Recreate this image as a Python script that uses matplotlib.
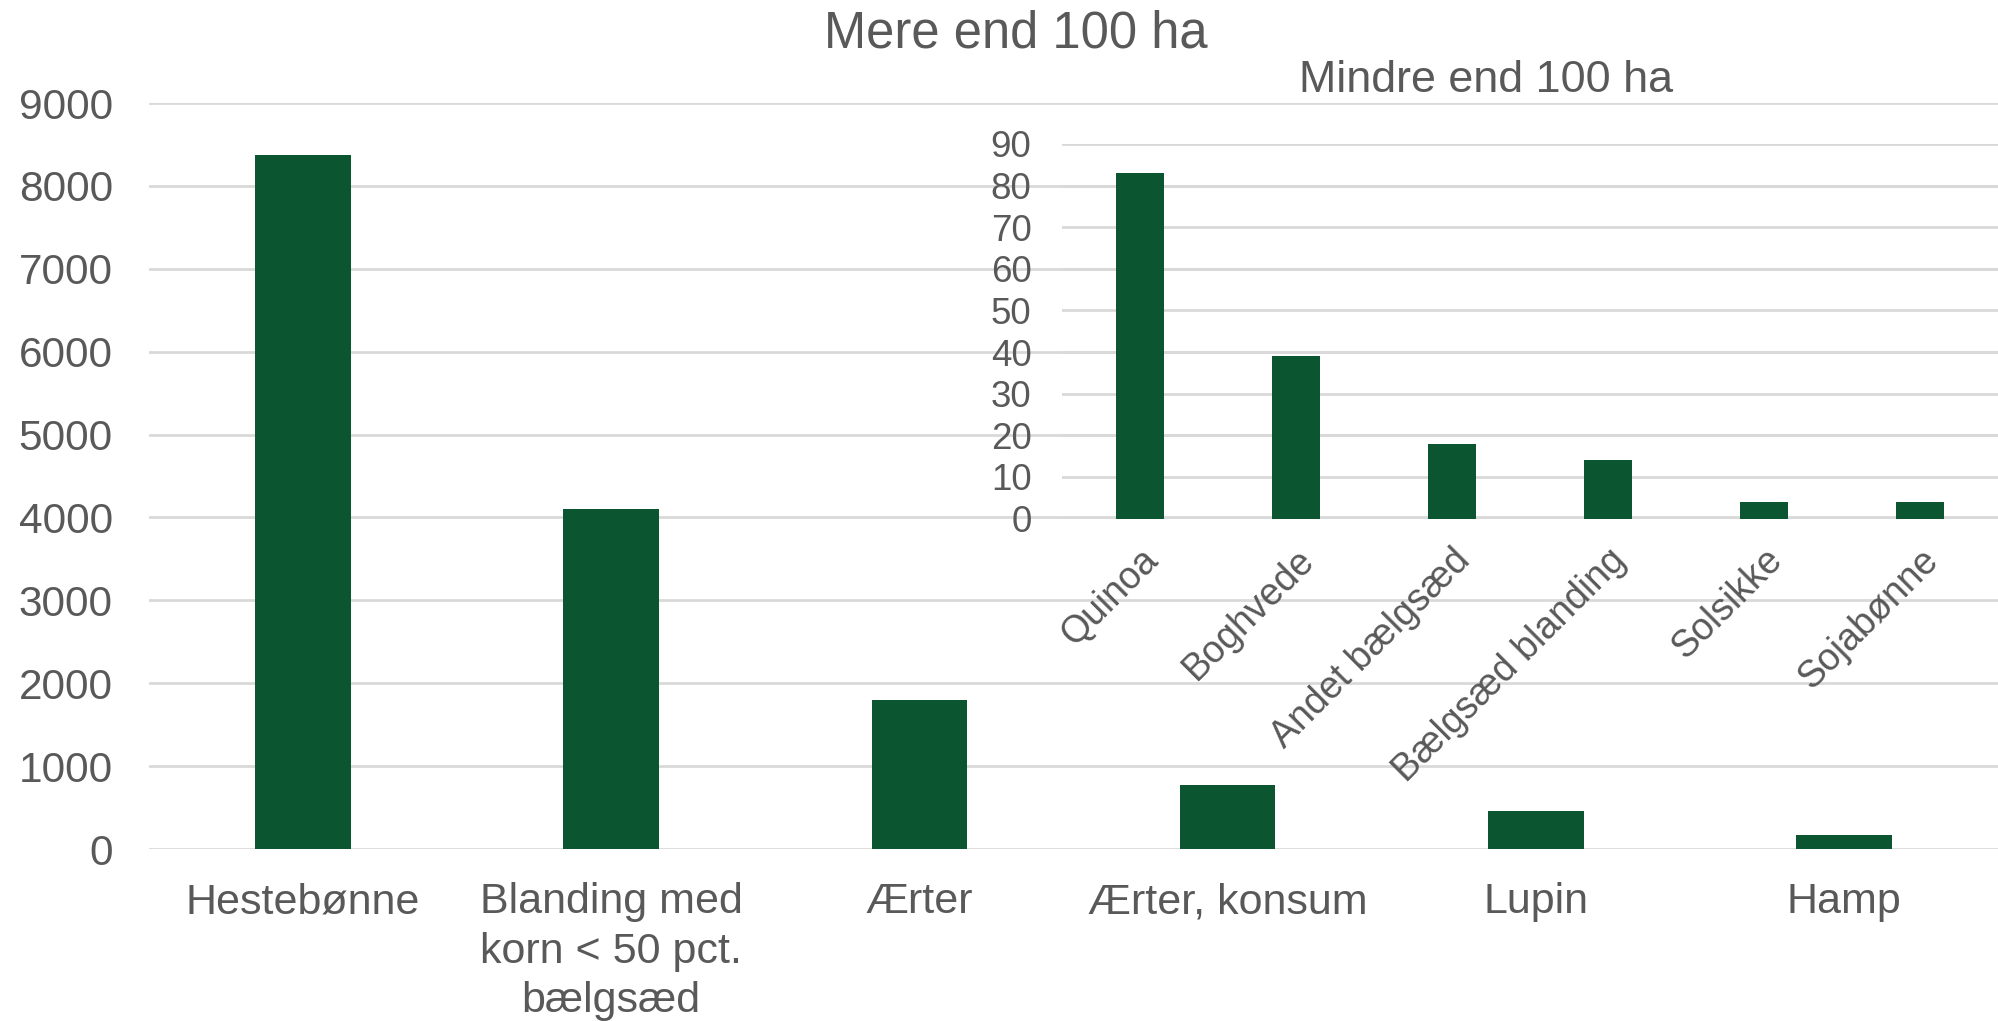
import matplotlib
matplotlib.use("Agg")
import matplotlib.pyplot as plt
import matplotlib.transforms as mtransforms

plt.rcParams['font.family'] = ['Liberation Sans', 'DejaVu Sans']

main_categories = ["Hestebønne", "Blanding med\nkorn < 50 pct.\nbælgsæd", "Ærter",
                   "Ærter, konsum", "Lupin", "Hamp"]
main_values = [8370, 4100, 1800, 770, 460, 170]
main_ticks = [0, 1000, 2000, 3000, 4000, 5000, 6000, 7000, 8000, 9000]

inset_categories = ["Quinoa", "Boghvede", "Andet bælgsæd", "Bælgsæd blanding",
                    "Solsikke", "Sojabønne"]
inset_values = [83, 39, 18, 14, 4, 4]
inset_ticks = [0, 10, 20, 30, 40, 50, 60, 70, 80, 90]

BAR = "#0B5630"
TXT = "#595959"
GRID = "#D9D9D9"

fig = plt.figure(figsize=(19.98, 10.21), dpi=100)

ax = fig.add_axes([149/1998, 1-849/1021, 1-149/1998, (849-103)/1021])
ax.bar(range(len(main_values)), main_values, width=0.31, color=BAR, zorder=3)
ax.set_xlim(-0.5, len(main_values)-0.5)
ax.set_ylim(0, 9000)
ax.set_yticks(main_ticks)
ax.set_yticklabels([str(t) for t in main_ticks])
ax.set_xticks(range(len(main_categories)))
ax.set_xticklabels(main_categories, linespacing=1.3)
ax.tick_params(axis='y', length=0, pad=26, labelsize=30.5, labelcolor=TXT)
ax.tick_params(axis='x', length=0, pad=24, labelsize=31, labelcolor=TXT)
ax.grid(axis='y', color=GRID, linewidth=2, zorder=0)
for s in ax.spines.values():
    s.set_visible(False)
ax.patch.set_alpha(0)
fig.text(1016/1998, 1-34/1021, "Mere end 100 ha", ha='center', va='center',
         fontsize=36.5, color=TXT)

ax2 = fig.add_axes([1062/1998, 1-518.5/1021, 1-1062/1998, (518.5-144)/1021])
ax2.bar(range(len(inset_values)), inset_values, width=0.31, color=BAR, zorder=3)
ax2.set_xlim(-0.5, len(inset_values)-0.5)
ax2.set_ylim(0, 90)
ax2.set_yticks(inset_ticks)
ax2.set_yticklabels([str(t) for t in inset_ticks])
ax2.set_xticks(range(len(inset_categories)))
ax2.set_xticklabels(inset_categories, rotation=45, ha='right', va='top',
                    rotation_mode='anchor')
shift = mtransforms.ScaledTranslation(-8/100, 0, fig.dpi_scale_trans)
for lbl in ax2.get_xticklabels():
    lbl.set_transform(lbl.get_transform() + shift)
ax2.tick_params(axis='y', length=0, pad=22, labelsize=26.5, labelcolor=TXT)
ax2.tick_params(axis='x', length=0, pad=17, labelsize=27, labelcolor=TXT)
ax2.grid(axis='y', color=GRID, linewidth=2, zorder=0)
for s in ax2.spines.values():
    s.set_visible(False)
ax2.patch.set_alpha(0)
fig.text(1486/1998, 1-80/1021, "Mindre end 100 ha", ha='center', va='center',
         fontsize=32.3, color=TXT)

fig.savefig("out.png", dpi=100, facecolor='white')
